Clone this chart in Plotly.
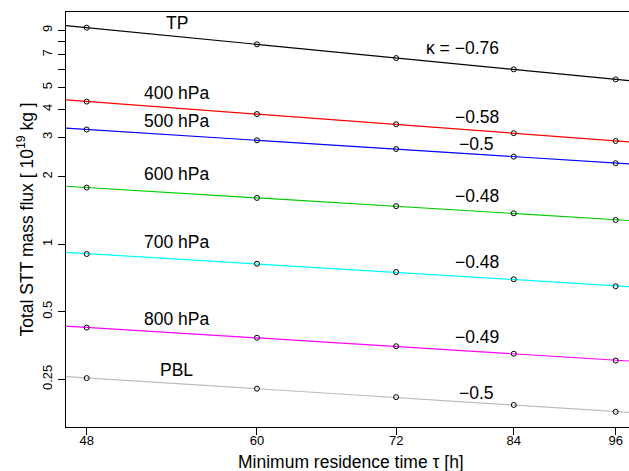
import numpy as np
import plotly.graph_objects as go

# ---- data ----
tau = [48, 60, 72, 84, 96]
levels = ["TP", "400 hPa", "500 hPa", "600 hPa", "700 hPa", "800 hPa", "PBL"]
flux_TP = [9.25, 7.80, 6.77, 6.03, 5.44]
flux_400 = [4.33, 3.81, 3.43, 3.13, 2.89]
flux_500 = [3.25, 2.91, 2.66, 2.46, 2.30]
flux_600 = [1.79, 1.61, 1.48, 1.375, 1.284]
flux_700 = [0.905, 0.819, 0.752, 0.698, 0.650]
flux_800 = [0.425, 0.383, 0.351, 0.325, 0.303]
flux_PBL = [0.253, 0.227, 0.208, 0.192, 0.179]
kappa_labels = ["\u03ba = \u22120.76", "\u22120.58", "\u22120.5", "\u22120.48", "\u22120.48", "\u22120.49", "\u22120.5"]
x_ticks = [48, 60, 72, 84, 96]
y_ticks = [0.25, 0.5, 1, 2, 3, 4, 5, 7, 9]
y_ticktext = ["0.25", "0.5", "1", "2", "3", "4", "5", "7", "9"]
y_unlabeled_ticks = [6, 8]

series = [flux_TP, flux_400, flux_500, flux_600, flux_700, flux_800, flux_PBL]
colors = ["#000000", "#FF0000", "#0000FF", "#00CD00", "#00FFFF", "#FF00FF", "#BEBEBE"]

# label placement (data coords)
name_x = 54
name_y = [9.7, 4.72, 3.56, 2.06, 1.027, 0.463, 0.275]
kap_x = [78.5, 80, 80, 80, 80, 80, 80]
kap_y = [7.48, 3.71, 2.79, 1.642, 0.831, 0.387, 0.218]

W, H = 629, 471
ml, mr, mt, mb = 66, 0, 12, 44
xr = [1.66946, 1.98986]
yr = [-0.815, 1.0361]
FONT = "Liberation Sans, Arial, Helvetica, sans-serif"

fig = go.Figure()
lx = np.log10(np.array(tau, dtype=float))
xfit = np.array([10 ** xr[0], 10 ** xr[1]])
for vals, col in zip(series, colors):
    ly = np.log10(np.array(vals, dtype=float))
    b, a = np.polyfit(lx, ly, 1)
    yfit = 10 ** (a + b * np.log10(xfit))
    fig.add_trace(go.Scatter(x=xfit, y=yfit, mode="lines",
                             line=dict(color=col, width=1.2), showlegend=False,
                             hoverinfo="skip"))
    fig.add_trace(go.Scatter(x=tau, y=vals, mode="markers",
                             marker=dict(symbol="circle-open", size=5, color="black",
                                         line=dict(width=1, color="black")),
                             showlegend=False))

for name, y in zip(levels, name_y):
    fig.add_annotation(x=np.log10(name_x), y=np.log10(y), text=name, showarrow=False,
                       xref="x", yref="y", font=dict(size=17.5, color="black", family=FONT))
for k, xk, yk in zip(kappa_labels, kap_x, kap_y):
    fig.add_annotation(x=np.log10(xk), y=np.log10(yk), text=k, showarrow=False,
                       xref="x", yref="y", font=dict(size=17.5, color="black", family=FONT))

# axis titles
fig.add_annotation(x=(351 - ml) / (W - ml - mr), y=-(462 - (H - mb)) / (H - mt - mb),
                   xref="paper", yref="paper", text="Minimum residence time \u03c4 [h]",
                   showarrow=False, font=dict(size=17.5, color="black", family=FONT),
                   yanchor="middle")
fig.add_annotation(x=(25 - ml) / (W - ml - mr), y=0.5, xref="paper", yref="paper",
                   text="Total STT mass flux [ 10<sup>19</sup> kg ]", textangle=-90,
                   showarrow=False, font=dict(size=17.5, color="black", family=FONT),
                   xanchor="center")

fig.update_xaxes(type="log", range=xr, tickvals=x_ticks, ticktext=[str(t) for t in x_ticks],
                 ticks="outside", ticklen=7, tickcolor="black", tickwidth=1,
                 showline=True, linecolor="black", linewidth=1.3, mirror=True,
                 showgrid=False, zeroline=False, ticklabelstandoff=-6,
                 tickfont=dict(size=13, color="black", family=FONT))
fig.update_yaxes(type="log", range=yr, tickvals=y_ticks, ticktext=y_ticktext,
                 ticks="outside", ticklen=7, tickcolor="black", tickwidth=1,
                 showline=True, linecolor="black", linewidth=1.3, mirror=False,
                 showgrid=False, zeroline=False, tickangle=-90, ticklabelstandoff=1,
                 minor=dict(tickmode="array", tickvals=y_unlabeled_ticks, ticks="outside",
                            ticklen=7, tickcolor="black", tickwidth=1, showgrid=False),
                 tickfont=dict(size=13, color="black", family=FONT))
fig.update_layout(width=W, height=H, margin=dict(l=ml, r=mr, t=mt, b=mb),
                  plot_bgcolor="white", paper_bgcolor="white", showlegend=False,
                  font=dict(family=FONT, color="black"))
fig.write_html("out.html", config={"displayModeBar": False},
               post_script="document.body.style.margin='0';document.body.style.overflow='hidden';")
